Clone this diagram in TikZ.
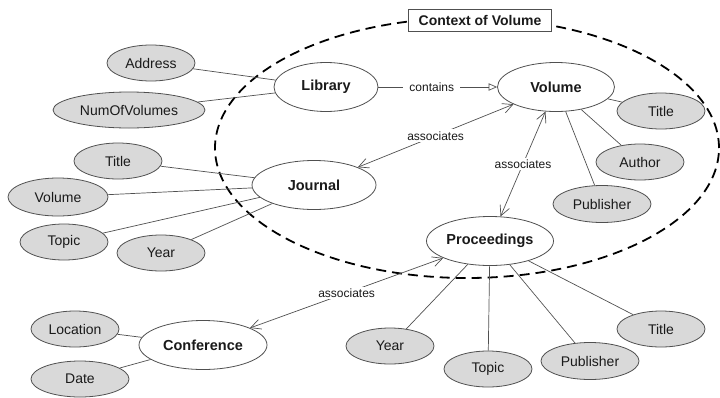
\documentclass[tikz,border=0pt]{standalone}
\usepackage{fontspec}
\setmainfont{Liberation Sans}
\usetikzlibrary{shapes.geometric,arrows.meta}
\definecolor{attrGray}{HTML}{D9D9D9}
\definecolor{lineGray}{HTML}{505050}
\definecolor{textDark}{HTML}{1A1A1A}

\begin{document}
\begin{tikzpicture}[
    x=1pt, y=-1pt,
    entity/.style={ellipse, draw=lineGray, line width=0.8pt, fill=white, text=textDark,
                   minimum height=49pt, inner sep=0pt, font=\fontsize{14.5}{16}\selectfont\bfseries},
    attr/.style={ellipse, draw=lineGray, line width=0.8pt, fill=attrGray, text=textDark,
                 minimum width=88pt, minimum height=36pt, inner sep=0pt, font=\fontsize{14}{16}\selectfont},
    context/.style={ellipse, draw=black, dash pattern=on 10pt off 6pt, line width=1.8pt,
                    minimum width=504pt, minimum height=260pt},
    ctxtitle/.style={rectangle, draw=lineGray, line width=0.9pt, fill=white, text=textDark,
                     minimum width=143pt, minimum height=22pt, inner sep=0pt,
                     font=\fontsize{14}{16}\selectfont\bfseries},
    link/.style={lineGray, line width=0.7pt},
    assoc/.style={{Straight Barb[length=3.5mm, width=3.5mm]}-{Straight Barb[length=3.5mm, width=3.5mm]},
                  lineGray, line width=0.7pt},
    contain/.style={-{Triangle[open, length=3mm, width=2.6mm]}, lineGray, line width=0.7pt},
    rel/.style={fill=white, inner sep=2pt, text=textDark, font=\fontsize{12}{14}\selectfont},
]
    \useasboundingbox (0,0) rectangle (720,397);

    % context of volume
    \node[context] (ctx) at (467,148) {};
    \node[ctxtitle] (ctxlabel) at (480,20) {Context of Volume};

    % entities
    \node[entity, minimum width=104pt] (library) at (326,87) {Library};
    \node[entity, minimum width=117pt] (volume) at (556,87) {Volume};
    \node[entity, minimum width=124pt] (journal) at (314,185) {Journal};
    \node[entity, minimum width=127pt] (proc) at (490,241) {Proceedings};
    \node[entity, minimum width=128pt] (conf) at (203,345) {Conference};

    % attributes
    \node[attr] (address) at (151,63) {Address};
    \node[attr, minimum width=152pt] (numvol) at (129,110) {NumOfVolumes};
    \node[attr] (jtitle) at (118,161) {Title};
    \node[attr, minimum width=100pt, minimum height=38pt] (jvolume) at (58,197) {Volume};
    \node[attr] (jtopic) at (64,242) {Topic};
    \node[attr] (jyear) at (161,253) {Year};
    \node[attr] (vtitle) at (661,111) {Title};
    \node[attr] (vauthor) at (640,162) {Author};
    \node[attr, minimum width=98pt, minimum height=37pt] (vpub) at (602,204) {Publisher};
    \node[attr] (pyear) at (390,346) {Year};
    \node[attr] (ptopic) at (488,369) {Topic};
    \node[attr, minimum width=98pt, minimum height=37pt] (ppub) at (590,361) {Publisher};
    \node[attr] (ptitle) at (661,329) {Title};
    \node[attr] (location) at (75,329) {Location};
    \node[attr, minimum width=98pt] (date) at (80,379) {Date};

    % attribute links
    \draw[link] (address) -- (library);
    \draw[link] (numvol) -- (library);
    \draw[link] (jtitle) -- (journal);
    \draw[link] (jvolume) -- (journal);
    \draw[link] (jtopic) -- (journal);
    \draw[link] (jyear) -- (journal);
    \draw[link] (vtitle) -- (volume);
    \draw[link] (vauthor) -- (volume);
    \draw[link] (vpub) -- (volume);
    \draw[link] (pyear) -- (proc);
    \draw[link] (ptopic) -- (proc);
    \draw[link] (ppub) -- (proc);
    \draw[link] (ptitle) -- (proc);
    \draw[link] (location) -- (conf);
    \draw[link] (date) -- (conf);

    % relations
    \draw[contain] (library) -- node[rel, inner xsep=6pt, pos=0.45] {contains} (volume);
    \draw[assoc] (journal) -- node[rel] {associates} (volume);
    \draw[assoc] (proc) -- node[rel] {associates} (volume);
    \draw[assoc] (conf) -- node[rel] {associates} (proc);
\end{tikzpicture}
\end{document}
